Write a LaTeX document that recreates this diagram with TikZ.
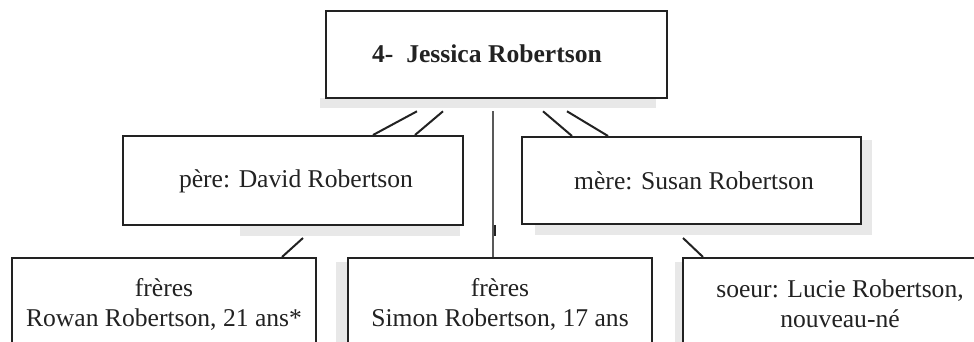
\documentclass[tikz,border=0pt]{standalone}
\usepackage{fontspec}
\setmainfont{Liberation Serif}
\usetikzlibrary{calc}
\definecolor{ink}{HTML}{222222}
\definecolor{shade}{HTML}{E8E8E8}
\begin{document}
\begin{tikzpicture}[x=1pt,y=-1pt,
  box/.style={draw=ink, line width=2pt, rectangle, inner sep=0pt, fill=white},
  lbl/.style={align=center, inner sep=0pt, text=ink, font=\fontsize{25.6}{30}\selectfont},
  conn/.style={draw=ink, line width=2pt},
  thin/.style={draw=ink!75, line width=1.1pt},
  shadowbox/.style={fill=shade, draw=none}]
\useasboundingbox (0,0) rectangle (974,342);
\clip (0,0) rectangle (974,342);
% shadows
\fill[shadowbox] (320,98) rectangle (656,108);
\fill[shadowbox] (240,226) rectangle (460,236);
\fill[shadowbox] (535,225) rectangle (872,235);
\fill[shadowbox] (862,140) rectangle (872,235);
\fill[shadowbox] (336,262) rectangle (347,342);
\fill[shadowbox] (675,262) rectangle (683,342);
% boxes
\node[box, line width=2.6pt, minimum width=341, minimum height=87] (top) at (496.5,54.5) {};
\node[lbl, font=\fontsize{25.6}{30}\selectfont\bfseries] (topt) at (487,54) {4-\ \ Jessica Robertson};
\node[box, minimum width=340, minimum height=89] (pere) at (293,180.5) {};
\node[lbl] (peret) at (296,181) {père: David Robertson};
\node[box, minimum width=339, minimum height=87] (mere) at (691.5,180.5) {};
\node[lbl] (meret) at (694,181) {mère: Susan Robertson};
\node[box, minimum width=304, minimum height=114] (b1) at (164,315) {};
\node[lbl] (b1t) at (164,304) {frères\\Rowan Robertson, 21 ans*};
\node[box, minimum width=304, minimum height=114] (b2) at (500,315) {};
\node[lbl] (b2t) at (500,304) {frères\\Simon Robertson, 17 ans};
\node[box, minimum width=314, minimum height=114] (b3) at (840,315) {};
\node[lbl] (b3t) at (840,304) {soeur: Lucie Robertson,\\nouveau-né};
% connectors
\draw[conn] ([xshift=-79.5pt,yshift=-12pt]top.south) -- ([xshift=80pt]pere.north);
\draw[conn] ([xshift=-53.5pt,yshift=-12pt]top.south) -- ([xshift=122pt]pere.north);
\draw[conn] ([xshift=46.5pt,yshift=-12pt]top.south) -- ([xshift=-119.5pt]mere.north);
\draw[conn] ([xshift=70.5pt,yshift=-12pt]top.south) -- ([xshift=-83.5pt]mere.north);
\draw[thin] ([xshift=-3.5pt,yshift=-12pt]top.south) -- ([xshift=-7pt]b2.north);
\coordinate (tick) at ([xshift=-5pt,yshift=32pt]b2.north);
\draw[conn, line width=2.4pt] (tick) -- ++(0,11);
\draw[conn] ([xshift=10pt,yshift=-12pt]pere.south) -- ([xshift=118pt]b1.north);
\draw[conn] ([xshift=-8.5pt,yshift=-13pt]mere.south) -- ([xshift=-137pt]b3.north);
\end{tikzpicture}
\end{document}
